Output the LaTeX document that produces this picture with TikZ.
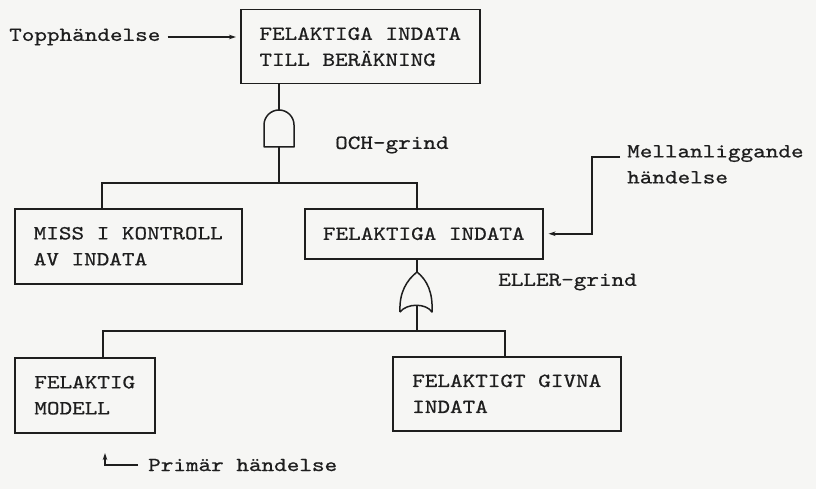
\documentclass[tikz,border=0pt]{standalone}
\usepackage{fontspec}
% typewriter face, widened a little to the spacing of the original typing
\setmonofont[FakeStretch=1.2,FakeBold=0.7]{lmmono10-regular.otf}
\usetikzlibrary{arrows.meta}
\definecolor{paper}{RGB}{246,246,244}
\definecolor{ink}{RGB}{30,30,30}
\newcommand{\typeface}{\fontsize{20}{26}\selectfont\ttfamily}
\tikzset{
  wire/.style={draw=ink, line width=1.5pt},
  arr/.style={wire, -{Stealth[length=7pt,width=4.5pt]}},
  event/.style={wire, anchor=north west, align=left, inner sep=0pt,
    text=ink, font=\typeface},
  lbl/.style={anchor=west, inner sep=0pt, align=left, text=ink,
    font=\typeface},
}
\begin{document}
\begin{tikzpicture}[x=1pt, y=-1pt]
  \fill[paper] (0,0) rectangle (816,489);
  \useasboundingbox (0,0) rectangle (816,489);

  % event boxes
  \node[event, minimum width=239pt, minimum height=74pt] (top) at (240,9)
    {FELAKTIGA INDATA\\TILL BERÄKNING};
  \node[event, minimum width=227pt, minimum height=75pt] (miss) at (14,208)
    {MISS I KONTROLL\\AV INDATA};
  \node[event, minimum width=238pt, minimum height=50pt] (mid) at (304,208)
    {FELAKTIGA INDATA};
  \node[event, minimum width=140pt, minimum height=75pt] (modell) at (14,357)
    {FELAKTIG\\MODELL};
  \node[event, minimum width=228pt, minimum height=74pt] (givna) at (392,356)
    {FELAKTIGT GIVNA\\INDATA};

  % AND gate (flat base, round top)
  \coordinate (andin) at (279,110);
  \coordinate (andout) at (279,147);
  \draw[wire, line join=round] (264,147) -- (264,125)
    arc[start angle=180, end angle=360, radius=15] -- (294,147) -- cycle;
  \draw[wire] (andin |- top.south) -- (andin);

  % branch under the AND gate
  \coordinate (b1L) at (102,183);
  \coordinate (b1R) at (417,183);
  \draw[wire] (andout) -- (andout |- b1L);
  \draw[wire] (b1L |- miss.north) -- (b1L) -- (b1R) -- (b1R |- mid.north);

  % OR gate (pointed top, hollow base)
  \coordinate (orin) at (417,272);
  \coordinate (orout) at (417,306);
  \draw[wire, line join=round] (400,312) .. controls (399,292) and (407,280) .. (orin)
    .. controls (427,280) and (433,292) .. (432,312)
    .. controls (426,303) and (407,303) .. (400,312);
  \draw[wire] (orin |- mid.south) -- (orin);

  % branch under the OR gate
  \coordinate (b2L) at (103,331);
  \coordinate (b2R) at (505,331);
  \draw[wire] (orout) -- (orout |- b2L);
  \draw[wire] (b2L |- modell.north) -- (b2L) -- (b2R) -- (b2R |- givna.north);

  % gate labels
  \node[lbl] (och) at (335,145) {OCH-grind};
  \node[lbl] (eller) at (498,282) {ELLER-grind};

  % annotations
  \node[lbl] (tph) at (9,37) {Topphändelse};
  \draw[arr] ([xshift=7pt]tph.east) -- ([xshift=-4pt]top.west |- tph.east);

  \node[lbl, anchor=north west] (mell) at (627,145) {Mellanliggande\\händelse};
  \coordinate (m0) at (620,157);
  \coordinate (m1) at (592,157);
  \draw[arr] (m0) -- (m1) |- ([xshift=5pt]mid.east);

  \node[lbl] (prim) at (148,465) {Primär händelse};
  \coordinate (p1) at (105,453);
  \draw[arr] ([xshift=-10pt]prim.west) -| (p1);
\end{tikzpicture}
\end{document}
